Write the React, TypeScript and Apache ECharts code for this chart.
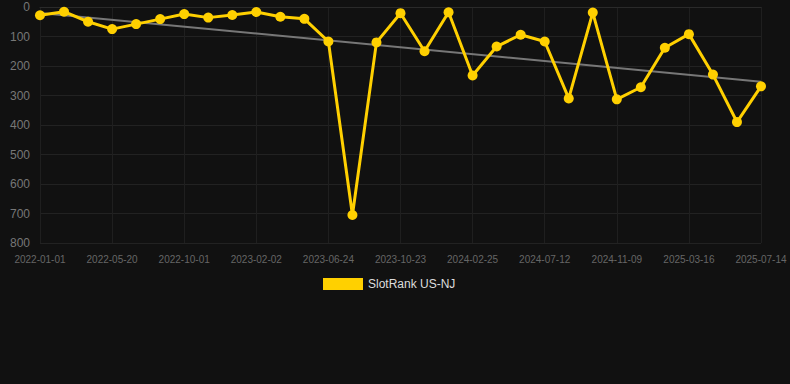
import React, { useEffect, useRef } from "react";
import * as echarts from "echarts";

const dates = [
  "2022-01-01", "2022-02-16", "2022-04-03", "2022-05-20", "2022-07-03", "2022-08-17",
  "2022-10-01", "2022-11-11", "2022-12-22", "2023-02-02", "2023-03-19", "2023-05-06",
  "2023-06-24", "2023-08-03", "2023-09-12", "2023-10-23", "2023-12-03", "2024-01-14",
  "2024-02-25", "2024-04-10", "2024-05-27", "2024-07-12", "2024-08-21", "2024-09-30",
  "2024-11-09", "2024-12-21", "2025-02-01", "2025-03-16", "2025-04-24", "2025-06-04",
  "2025-07-14",
];

const rankValues = [
  28, 16, 50, 75, 58, 41, 24, 36, 27, 17, 33, 40,
  117, 705, 120, 21, 150, 18, 232, 134, 94, 117, 310, 19,
  313, 272, 138, 92, 229, 390, 269,
];

const trendStart = 20;
const trendEnd = 253;

const seriesName = "SlotRank US-NJ";

export default function App() {
  const ref = useRef<HTMLDivElement>(null);
  useEffect(() => {
    document.body.style.margin = "0";
    const chart = echarts.init(ref.current!, null, { renderer: "svg" });
    const trendData = dates.map((_, i) =>
      i === 0 ? trendStart : i === dates.length - 1 ? trendEnd : null
    );
    chart.setOption({
      animation: false,
      backgroundColor: "#111111",
      grid: { left: 40, right: 29, top: 7, bottom: 141, containLabel: false },
      legend: {
        data: [{ name: seriesName, icon: "rect" }],
        top: 273,
        left: 318,
        itemWidth: 40,
        itemHeight: 12,
        itemGap: 10,
        textStyle: { color: "#dddddd", fontSize: 12, fontFamily: "Arial, Liberation Sans, sans-serif" },
      },
      xAxis: {
        type: "category",
        data: dates,
        boundaryGap: false,
        axisLine: { show: true, lineStyle: { color: "#2a2a2a" } },
        axisTick: { show: false },
        axisLabel: {
          interval: 2,
          color: "#666666",
          fontSize: 10,
          margin: 11,
          fontFamily: "Arial, Liberation Sans, sans-serif",
        },
        splitLine: { show: true, interval: 2, lineStyle: { color: "#1f1f1f", width: 1 } },
      },
      yAxis: {
        type: "value",
        inverse: true,
        min: 0,
        max: 800,
        interval: 100,
        axisLine: { show: false },
        axisTick: { show: false },
        axisLabel: {
          color: "#777777",
          fontSize: 12,
          margin: 10,
          fontFamily: "Arial, Liberation Sans, sans-serif",
        },
        splitLine: { show: true, lineStyle: { color: "#222222", width: 1 } },
      },
      series: [
        {
          name: "trend",
          type: "line",
          data: trendData,
          connectNulls: true,
          showSymbol: false,
          symbol: "none",
          lineStyle: { color: "#777777", width: 2 },
          z: 1,
          silent: true,
        },
        {
          name: seriesName,
          type: "line",
          data: rankValues,
          symbol: "circle",
          symbolSize: 10,
          showSymbol: true,
          itemStyle: { color: "#FFD000" },
          lineStyle: { color: "#FFD000", width: 3 },
          z: 3,
        },
      ],
    });
    return () => chart.dispose();
  }, []);
  return <div ref={ref} style={{ width: 790, height: 384 }} />;
}
